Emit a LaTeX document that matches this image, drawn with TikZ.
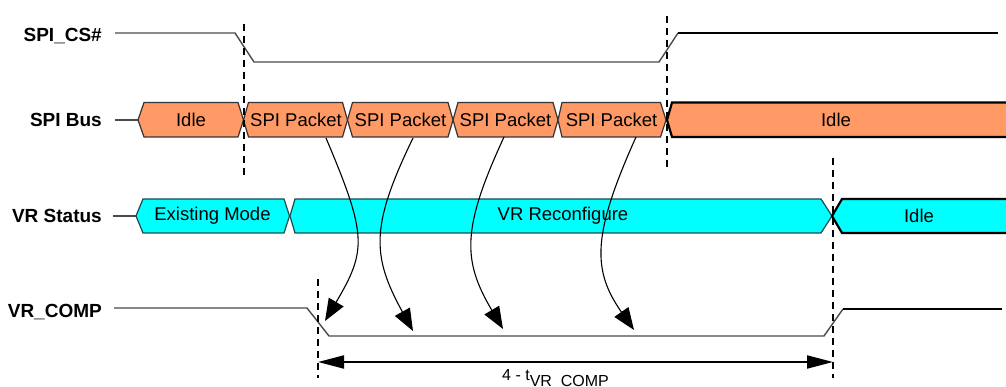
\documentclass[tikz,border=0pt]{standalone}
\usepackage{fontspec}
\setmainfont{Liberation Sans}
\usetikzlibrary{arrows.meta}
\definecolor{orng}{HTML}{FF9966}
\definecolor{cyn}{HTML}{00FFFF}
\definecolor{sig}{HTML}{4A4A4A}
\definecolor{teal}{HTML}{1F4A4A}
\tikzset{
  siglabel/.style={anchor=base east, inner sep=0pt, font=\fontsize{19}{22}\selectfont\bfseries},
  boxtext/.style={inner sep=0pt, font=\fontsize{18.5}{22}\selectfont},
  thinsig/.style={draw=sig, line width=1.4pt},
  thicksig/.style={draw=black, line width=2.2pt},
  obox/.style={fill=orng, draw=sig!70!black, line width=1.2pt},
  oboxthick/.style={fill=orng, draw=black, line width=2.2pt},
  cbox/.style={fill=cyn, draw=teal, line width=1.2pt},
  cboxthick/.style={fill=cyn, draw=black, line width=2.2pt},
  marker/.style={draw=black, line width=2pt, dash pattern=on 7pt off 5pt},
  cause/.style={draw=black, line width=1.1pt, -{Triangle[length=22pt,width=17pt]}},
  span/.style={draw=black, line width=2pt, {Triangle[length=26pt,width=13pt]}-{Triangle[length=26pt,width=13pt]}}
}
\begin{document}
\begin{tikzpicture}[x=1pt,y=-1pt]
\useasboundingbox (0,0) rectangle (1006,387);

% ---- labels
\node[siglabel] (lcs) at (102,42) {SPI\_CS\#};
\node[siglabel] (lbus) at (102,127) {SPI Bus};
\node[siglabel] (lvr) at (102,223) {VR Status};
\node[siglabel] (lcomp) at (102,317) {VR\_COMP};

% ---- SPI_CS#
\draw[thinsig] (115,33) -- (235,33) -- (254,62) -- (659,62) -- (678,33);
\draw[thicksig] (678,33) -- (998,33);

% ---- SPI Bus
\draw[thinsig] (115,120) -- (138,120);
\draw[obox] (138,120) -- (144,102.5) -- (238,102.5) -- (243.5,120) -- (238,137) -- (144,137) -- cycle;
\node[boxtext] (idle1) at (191,120) {Idle};
\draw[obox] (243.5,120) -- (248.5,102.5) -- (342.5,102.5) -- (347.5,120) -- (342.5,137) -- (248.5,137) -- cycle;
\node[boxtext] (p1) at (296,120) {SPI Packet};
\draw[obox] (347.5,120) -- (352.5,102.5) -- (448,102.5) -- (453,120) -- (448,137) -- (352.5,137) -- cycle;
\node[boxtext] (p2) at (400.5,120) {SPI Packet};
\draw[obox] (453,120) -- (458,102.5) -- (553,102.5) -- (558,120) -- (553,137) -- (458,137) -- cycle;
\node[boxtext] (p3) at (505.5,120) {SPI Packet};
\draw[obox] (558,120) -- (562,102.5) -- (660.5,102.5) -- (666,120) -- (660.5,137) -- (562,137) -- cycle;
\node[boxtext] (p4) at (611.5,120) {SPI Packet};
\draw[oboxthick] (1012,102.5) -- (672,102.5) -- (667,120) -- (672,137) -- (1012,137);
\node[boxtext] (idle2) at (836,120) {Idle};

% ---- VR Status
\draw[thinsig] (113,216) -- (136,216);
\draw[cbox] (136,216) -- (143,199) -- (284,199) -- (289.5,216) -- (284,233) -- (143,233) -- cycle;
\node[boxtext] (exist) at (212.5,216) {Existing Mode};
\draw[cbox] (290,216) -- (295,199) -- (821,199) -- (832,216) -- (821,233) -- (295,233) -- cycle;
\node[boxtext] (reconf) at (563,216) {VR Reconfigure};
\draw[cboxthick] (1012,199) -- (842,199) -- (832,216) -- (842,233) -- (1012,233);
\node[boxtext] (idle3) at (919,216) {Idle};

% ---- VR_COMP
\draw[thinsig] (114,308) -- (307,308) -- (329,336) -- (824,336) -- (843,309);
\draw[thicksig] (843,309) -- (1002,309);

% ---- markers
\coordinate (m1t) at (244,24);  \coordinate (m1b) at (244,175);
\coordinate (m2t) at (667,16);  \coordinate (m2b) at (667,171);
\coordinate (m3t) at (833,158); \coordinate (m3b) at (833,378);
\coordinate (m4t) at (318,279); \coordinate (m4b) at (318,378);
\draw[marker] (m1t) -- (m1b);
\draw[marker] (m2t) -- (m2b);
\draw[marker] (m3t) -- (m3b);
\draw[marker] (m4t) -- (m4b);

% ---- cause arrows
\coordinate (a1s) at (326,138); \coordinate (a1e) at (325,321);
\coordinate (a2s) at (413,138); \coordinate (a2e) at (413,331);
\coordinate (a3s) at (504,137); \coordinate (a3e) at (503,329);
\coordinate (a4s) at (636,137); \coordinate (a4e) at (634,330);
\draw[cause] (a1s) .. controls (367,235) and (367,250) .. (a1e);
\draw[cause] (a2s) .. controls (371,225) and (371,255) .. (a2e);
\draw[cause] (a3s) .. controls (462,228) and (462,260) .. (a3e);
\draw[cause] (a4s) .. controls (592,235) and (592,270) .. (a4e);

% ---- duration
\coordinate (s1) at (318,362); \coordinate (s2) at (833,362);
\draw[span] (s1) -- (s2);
\node[anchor=base west, inner sep=0pt, font=\fontsize{16}{18}\selectfont] (dur) at (502,380)
  {4 - t\raisebox{-6pt}{\fontsize{16}{18}\selectfont VR\_COMP}};
\end{tikzpicture}
\end{document}
